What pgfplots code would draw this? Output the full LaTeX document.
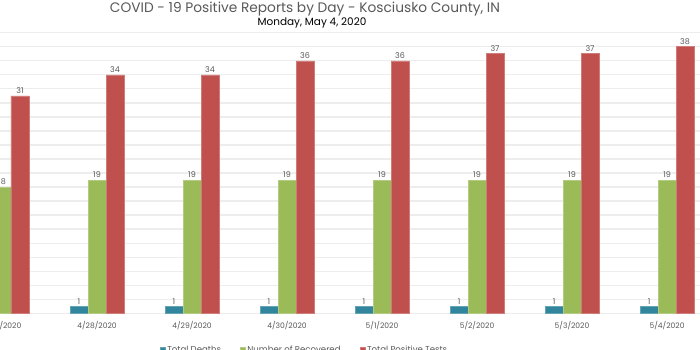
\documentclass[border=0pt]{standalone}
\usepackage{pgfplots}
\pgfplotsset{compat=1.18}
\usepackage{fontspec}
\setmainfont{Poppins}
\definecolor{cblue}{HTML}{31859C}
\definecolor{cgreen}{HTML}{9BBB59}
\definecolor{cred}{HTML}{C0504D}
\definecolor{ctext}{HTML}{595959}
\definecolor{cgrid}{HTML}{EDEDED}
\definecolor{cbase}{HTML}{D9D9D9}
\begin{document}
\begin{tikzpicture}
\useasboundingbox (0bp,0bp) rectangle (700bp,350bp);
\clip (0bp,0bp) rectangle (700bp,350bp);
\fill[white] (0bp,0bp) rectangle (700bp,350bp);
\begin{scope}[overlay]
\node[text=ctext, font=\fontsize{13.8}{15}\selectfont] at (305bp,341bp) {COVID - 19 Positive Reports by Day - Kosciusko County, IN};
\node[text=black, font=\fontsize{10.5}{12}\selectfont] at (312bp,327.5bp) {Monday, May 4, 2020};
\begin{axis}[
  overlay,
  at={(0bp,36.7bp)}, anchor=south west, scale only axis,
  width=700bp, height=280.6bp,
  xmin=-0.021, xmax=7.347, ymin=0, ymax=40,
  ybar=0pt, bar width=18bp,
  /pgf/number format/assume math mode=true,
  axis line style={draw=none},
  xtick={0,...,7},
  xticklabels={4/27/2020,4/28/2020,4/29/2020,4/30/2020,5/1/2020,5/2/2020,5/3/2020,5/4/2020},
  ytick={2,4,...,40}, yticklabels={},
  tick style={draw=none},
  ymajorgrids, major grid style={draw=cgrid, line width=1.3bp},
  extra y ticks={0}, extra y tick labels={},
  extra y tick style={grid style={draw=cbase, line width=1.3bp}},
  xticklabel style={font=\fontsize{7.6}{9}\selectfont, text=ctext},
  nodes near coords,
  nodes near coords style={font=\fontsize{8}{10}\selectfont, text=ctext, inner sep=2bp},
  legend style={at={(0.435,-0.131)}, anchor=center, draw=none, fill=none,
    legend columns=3, font=\fontsize{8.6}{10}\selectfont, text=ctext,
    /tikz/every even column/.append style={column sep=17bp}},
  legend image code/.code={\fill[#1] (0bp,-2.5bp) rectangle (5bp,2.5bp);},
]
\addplot[fill=cblue, draw=cblue!75!white, line width=0.5bp] coordinates {(0,1) (1,1) (2,1) (3,1) (4,1) (5,1) (6,1) (7,1)};
\addplot[fill=cgreen, draw=cgreen!75!white, line width=0.5bp] coordinates {(0,18) (1,19) (2,19) (3,19) (4,19) (5,19) (6,19) (7,19)};
\addplot[fill=cred, draw=cred!75!white, line width=0.5bp] coordinates {(0,31) (1,34) (2,34) (3,36) (4,36) (5,37) (6,37) (7,38)};
\legend{Total Deaths, Number of Recovered, Total Positive Tests}
\end{axis}
\end{scope}
\end{tikzpicture}
\end{document}
